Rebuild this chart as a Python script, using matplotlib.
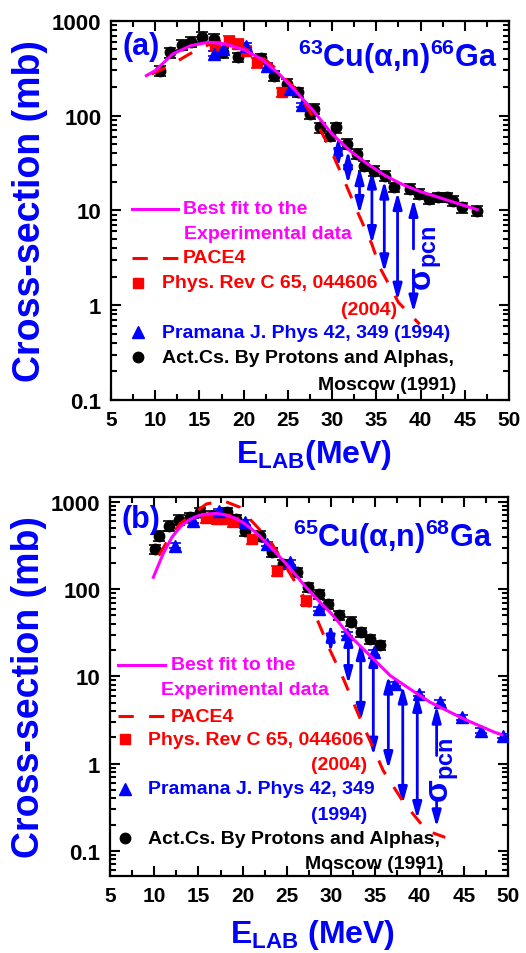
import numpy as np
import matplotlib
matplotlib.use('Agg')
import matplotlib.pyplot as plt
from matplotlib.ticker import MultipleLocator, LogLocator, FuncFormatter, NullFormatter

plt.rcParams['font.family'] = ['Liberation Sans', 'DejaVu Sans']
plt.rcParams['font.weight'] = 'bold'
plt.rcParams['mathtext.fontset'] = 'custom'
plt.rcParams['mathtext.rm'] = 'Liberation Sans:bold'
plt.rcParams['mathtext.it'] = 'Liberation Sans:bold'
plt.rcParams['mathtext.bf'] = 'Liberation Sans:bold'

BLUE = '#0000ff'
RED = '#ff0000'
MAG = '#ff00ff'

# ---- panel (a): 63Cu(a,n)66Ga ----
a_act_x = [10.5, 11.7, 13.0, 14.1, 15.3, 16.6, 17.7, 19.4, 22.0, 23.4, 24.9, 26.2, 27.5, 28.0,
           28.6, 29.8, 30.4, 31.7, 32.8, 33.6, 34.7, 36.0, 37.0, 38.8, 39.8, 40.9, 42.0, 43.0,
           43.7, 44.7, 46.4]
a_act_y = [299, 467, 559, 605, 682, 646, 467, 414, 404, 265, 216, 177, 104, 118,
           75.5, 61.6, 75.5, 50.4, 39.5, 29.7, 26.3, 23.3, 17.6, 16.9, 14.9, 13.2, 13.8, 13.8,
           12.7, 10.8, 9.95]
a_prc_x = [16.8, 18.3, 19.4, 20.3, 21.5, 24.3]
a_prc_y = [548, 620, 571, 486, 366, 177]
a_pram_x = [16.6, 17.7, 20.3, 22.6, 25.2, 26.6]
a_pram_y = [449, 506, 548, 337, 191, 130]
a_fit_x = [9.0, 10, 12, 14, 16, 18, 20, 22, 24, 26, 28, 30, 32, 34, 36, 38, 40, 42, 44, 46.4]
a_fit_y = [265, 299, 449, 548, 596, 571, 498, 397, 276, 177, 109, 64, 42.8, 31, 23.3, 18.7,
           15.8, 13.8, 12.0, 10.2]
a_pace_x = [9.6, 11.3, 13.9, 16.0, 18.0, 20.0, 22.0, 23.7, 26.0, 28.3, 29.8, 31.3, 32.8, 34.5,
            35.4, 37.5, 39.9]
a_pace_y = [276, 324, 449, 560, 600, 520, 420, 311, 185, 82, 44.6, 21.5, 10.0, 4.4,
            2.5, 1.07, 0.63]
a_arr_x = [30.7, 31.8, 33.1, 34.5, 35.9, 37.4]
a_arr_top = [59.7, 42.8, 28.6, 26.3, 20.6, 15.6]
a_arr_bot = [28.8, 19.1, 9.19, 4.43, 2.23, 1.12]
a_split = (39.2, 13.2, 3.93, 1.75, 0.84)

# ---- panel (b): 65Cu(a,n)68Ga ----
b_act_x = [10.1, 10.5, 11.7, 12.8, 14.1, 15.2, 16.5, 18.2, 19.3, 20.3, 22.0, 23.3, 24.6, 26.1,
           27.4, 28.6, 29.7, 30.9, 32.2, 33.4, 34.4, 35.5]
b_act_y = [289, 411, 535, 627, 668, 762, 697, 762, 638, 469, 411, 265, 194, 156,
           105, 88, 67.7, 50.7, 42.5, 32.1, 26.9, 23.0]
b_prc_x = [15.9, 17.1, 18.0, 18.9, 21.1, 23.9, 27.2]
b_prc_y = [650, 638, 638, 585, 377, 163, 74]
b_pram_x = [12.4, 14.4, 17.3, 20.3, 22.7, 25.4, 28.6, 31.8, 34.8, 37.2, 39.9, 42.3, 44.8, 47.0, 49.4]
b_pram_y = [316, 611, 794, 585, 330, 204, 59.4, 30.7, 18.9, 8.2, 6.3, 5.06, 3.4, 2.39, 2.07]
b_fit_x = [9.9, 11, 12, 13, 14, 15, 16, 17, 18, 19, 20, 21, 22, 23, 24, 25, 26, 27, 28, 29, 30,
           32.1, 34.4, 36.7, 38.9, 41.2, 45.0, 48.4, 49.3]
b_fit_y = [137, 254, 394, 526, 627, 697, 728, 741, 714, 660, 585, 490, 400, 316, 247, 191, 146,
           110, 85, 67, 53, 29.4, 17.3, 10.2, 7.2, 5.06, 3.26, 2.31, 2.15]
b_pace_x = [10.5, 11.4, 12.9, 15.9, 17.8, 19.7, 20.8, 23.1, 26.3, 28.4, 29.9, 31.4, 33.3, 35.9,
            38.2, 40.8, 42.9]
b_pace_y = [243, 345, 560, 949, 1035, 869, 638, 360, 105, 45.6, 19.8, 9.35, 3.26, 0.83,
            0.36, 0.171, 0.143]
b_arr_x = [29.95, 31.95, 33.35, 34.77, 36.47, 38.1, 39.74]
b_arr_top = [40, 35, 24.7, 20.6, 10.2, 7.85, 6.3]
b_arr_bot = [18.9, 8.2, 3.1, 1.24, 0.87, 0.346, 0.233]
b_split = (41.93, 4.62, 1.24, 0.394, 0.187)

REL_ERR = 0.12


def arrow(ax, x, y_from, y_to, style):
    ax.annotate('', xy=(x, y_to), xytext=(x, y_from),
                arrowprops=dict(arrowstyle=style + ',head_length=0.8,head_width=0.22',
                                color=BLUE, lw=2.0, shrinkA=0, shrinkB=0, mutation_scale=12))


def panel(ax, act_x, act_y, prc_x, prc_y, pram_x, pram_y, fit_x, fit_y, pace_x, pace_y,
          arr_x, arr_top, arr_bot, split, ylim):
    ax.set_yscale('log')
    ax.set_xlim(5, 50)
    ax.set_ylim(*ylim)

    act_y = np.array(act_y)
    ax.errorbar(act_x, act_y, yerr=REL_ERR * act_y, fmt='o', color='black', ms=7.5,
                capsize=4, elinewidth=1.2, capthick=1.2, zorder=3)
    prc_y = np.array(prc_y)
    ax.errorbar(prc_x, prc_y, yerr=REL_ERR * prc_y, fmt='s', color=RED, ms=6.5,
                capsize=4, elinewidth=1.2, capthick=1.2, zorder=3)
    pram_y = np.array(pram_y)
    ax.errorbar(pram_x, pram_y, yerr=0.06 * pram_y, fmt='^', color=BLUE, ms=8,
                capsize=4, elinewidth=1.2, capthick=1.2, zorder=3)

    ax.plot(pace_x, pace_y, color=RED, lw=2.2, dashes=(5, 5), zorder=4)
    ax.plot(fit_x, fit_y, color=MAG, lw=2.2, zorder=5)

    for x, t, b in zip(arr_x, arr_top, arr_bot):
        arrow(ax, x, b, t, '<|-|>')
    sx, t1, b1, t2, b2 = split
    arrow(ax, sx, b1, t1, '-|>')
    arrow(ax, sx, t2, b2, '-|>')

    ax.xaxis.set_major_locator(MultipleLocator(5))
    ax.xaxis.set_minor_locator(MultipleLocator(2.5))
    ax.yaxis.set_major_locator(LogLocator(base=10, numticks=10))
    ax.yaxis.set_minor_locator(LogLocator(base=10, subs=np.arange(2, 10), numticks=10))
    ax.yaxis.set_major_formatter(FuncFormatter(lambda v, p: f'{v:g}'))
    ax.yaxis.set_minor_formatter(NullFormatter())
    ax.tick_params(which='both', direction='in', top=True, right=True, width=1.5,
                   colors='black')
    ax.tick_params(axis='x', labelsize=15)
    ax.tick_params(axis='y', labelsize=16)
    ax.tick_params(which='major', length=7, pad=7)
    ax.tick_params(which='minor', length=4.5)
    for s in ax.spines.values():
        s.set_linewidth(1.6)
    ax.set_ylabel('Cross-section (mb)', fontsize=27, color=BLUE, fontweight='bold')
    ax.yaxis.set_label_coords(-0.158, 0.5)


def legend(ax, xl, xt, xm, rows, exp_x):
    tr = ax.transAxes
    kw = dict(transform=tr, fontsize=14, va='center', clip_on=False)
    ax.plot(xl, [rows[0], rows[0]], color=MAG, lw=2.2, transform=tr, clip_on=False)
    ax.text(xt, rows[0], 'Best fit to the', color=MAG, **kw)
    ax.text(exp_x, rows[1], 'Experimental data', color=MAG, **kw)
    ax.plot(xl, [rows[2], rows[2]], color=RED, lw=2.2, dashes=(5, 5), transform=tr, clip_on=False)
    ax.text(xt, rows[2], 'PACE4', color=RED, **kw)
    ax.plot([xm], [rows[3]], 's', color=RED, ms=6.5, transform=tr, clip_on=False)
    ax.plot([xm], [rows[5]], '^', color=BLUE, ms=8.5, transform=tr, clip_on=False)
    ax.plot([xm], [rows[7]], 'o', color='black', ms=7.5, transform=tr, clip_on=False)
    return kw


fig = plt.figure(figsize=(5.26, 9.54), dpi=100)
ax1 = fig.add_axes([0.2110, 0.5797, 0.7567, 0.3973])
ax2 = fig.add_axes([0.2091, 0.0807, 0.7567, 0.3973])

panel(ax1, a_act_x, a_act_y, a_prc_x, a_prc_y, a_pram_x, a_pram_y, a_fit_x, a_fit_y,
      a_pace_x, a_pace_y, a_arr_x, a_arr_top, a_arr_bot, a_split, (0.1, 1000))
panel(ax2, b_act_x, b_act_y, b_prc_x, b_prc_y, b_pram_x, b_pram_y, b_fit_x, b_fit_y,
      b_pace_x, b_pace_y, b_arr_x, b_arr_top, b_arr_bot, b_split, (0.0516, 1141))

ax1.set_xlabel(r'E$_{\mathrm{LAB}}$(MeV)', fontsize=23, color=BLUE, fontweight='bold')
ax2.set_xlabel(r'E$_{\mathrm{LAB}}$ (MeV)', fontsize=23, color=BLUE, fontweight='bold')
ax1.xaxis.set_label_coords(0.51, -0.097)
ax2.xaxis.set_label_coords(0.51, -0.107)

# panel labels and reactions
ax1.text(0.03, 0.934, '(a)', transform=ax1.transAxes, fontsize=22, color=BLUE, va='center')
ax2.text(0.03, 0.942, '(b)', transform=ax2.transAxes, fontsize=22, color=BLUE, va='center')
ax1.text(0.972, 0.908, r'$^{63}$Cu(α,n)$^{66}$Ga', transform=ax1.transAxes, fontsize=22,
         color=BLUE, ha='right', va='center')
ax2.text(0.962, 0.897, r'$^{65}$Cu(α,n)$^{68}$Ga', transform=ax2.transAxes, fontsize=22,
         color=BLUE, ha='right', va='center')

# sigma_pcn labels
ax1.text(0.796, 0.377, r'σ$_{\mathrm{pcn}}$', transform=ax1.transAxes, fontsize=24,
         color=BLUE, rotation=90, ha='center', va='center')
ax2.text(0.842, 0.282, r'σ$_{\mathrm{pcn}}$', transform=ax2.transAxes, fontsize=24,
         color=BLUE, rotation=90, ha='center', va='center')

# legend (a)
kw = legend(ax1, [0.053, 0.168], 0.181, 0.068,
            [0.504, 0.438, 0.375, 0.309, 0.240, 0.179, 0.0, 0.113], 0.183)
ax1.text(0.128, 0.309, 'Phys. Rev C 65, 044606', color=RED, **kw)
ax1.text(0.719, 0.240, '(2004)', color=RED, ha='right', **kw)
ax1.text(0.128, 0.179, 'Pramana J. Phys 42, 349 (1994)', color=BLUE, **kw)
ax1.text(0.128, 0.113, 'Act.Cs. By Protons and Alphas,', color='black', **kw)
ax1.text(0.869, 0.042, 'Moscow (1991)', color='black', ha='right', **kw)

# legend (b)
kw = legend(ax2, [0.020, 0.138], 0.153, 0.038,
            [0.557, 0.493, 0.422, 0.361, 0.293, 0.230, 0.161, 0.100], 0.128)
ax2.text(0.095, 0.361, 'Phys. Rev C 65, 044606', color=RED, **kw)
ax2.text(0.646, 0.293, '(2004)', color=RED, ha='right', **kw)
ax2.text(0.095, 0.230, 'Pramana J. Phys 42, 349', color=BLUE, **kw)
ax2.text(0.646, 0.161, '(1994)', color=BLUE, ha='right', **kw)
ax2.text(0.095, 0.100, 'Act.Cs. By Protons and Alphas,', color='black', **kw)
ax2.text(0.837, 0.032, 'Moscow (1991)', color='black', ha='right', **kw)

fig.savefig('out.png', dpi=100)
